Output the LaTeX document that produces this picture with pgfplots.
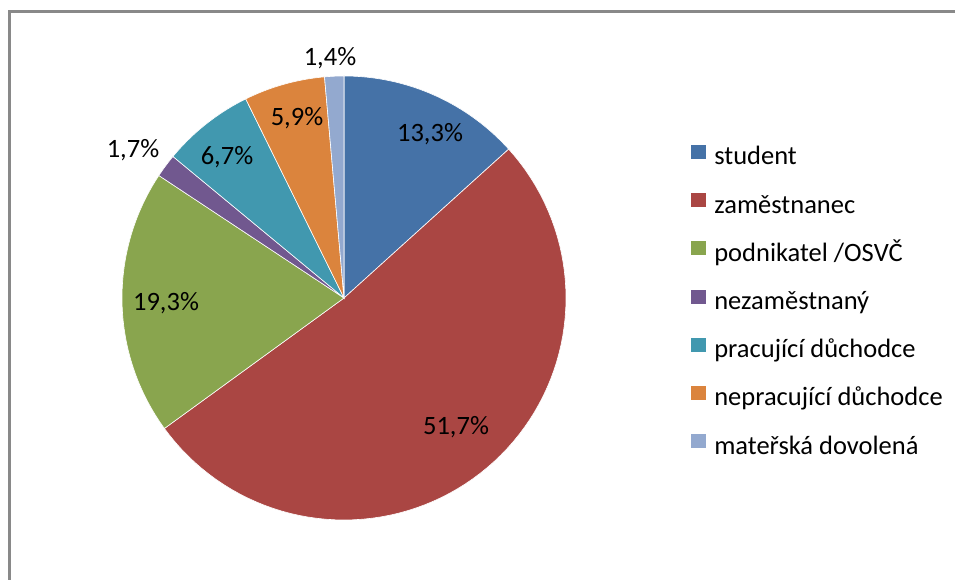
\documentclass[border=0pt]{standalone}
\usepackage{fontspec}
\setmainfont{Carlito}
\usepackage{pgfplots}
\pgfplotsset{compat=1.18}

\definecolor{cStudent}{HTML}{4572A7}
\definecolor{cZam}{HTML}{AA4643}
\definecolor{cPodn}{HTML}{89A54E}
\definecolor{cNezam}{HTML}{71588F}
\definecolor{cPrac}{HTML}{4198AF}
\definecolor{cNeprac}{HTML}{DB843D}
\definecolor{cMat}{HTML}{93A9CF}
\definecolor{frame}{HTML}{898989}

% shares in percent, clockwise from the top
\def\cx{344}\def\cy{282}\def\pieR{222}
\pgfmathsetmacro\aA{90}
\pgfmathsetmacro\aB{\aA-3.6*13.3}
\pgfmathsetmacro\aC{\aB-3.6*51.7}
\pgfmathsetmacro\aD{\aC-3.6*19.3}
\pgfmathsetmacro\aE{\aD-3.6*1.7}
\pgfmathsetmacro\aF{\aE-3.6*6.7}
\pgfmathsetmacro\aG{\aF-3.6*5.9}
\pgfmathsetmacro\aH{\aG-3.6*1.4}

\begin{document}
\begin{tikzpicture}
\begin{axis}[
    x=1pt, y=1pt,
    xmin=0, xmax=955, ymin=0, ymax=580,
    hide axis, clip=false,
    every axis plot/.append style={draw=white, line width=0.6pt, samples=80},
    legend image code/.code={\fill[#1, draw=none] (0pt,0pt) rectangle (15pt,14pt); \path (23pt,0pt);},
    legend cell align=left,
    legend style={at={(axis cs:691,435)}, anchor=north west, draw=none, fill=none,
        inner sep=0pt, outer sep=0pt, row sep=22.2pt,
        font=\fontsize{26.5}{30}\selectfont,
        nodes={inner sep=0pt, text height=18pt, text depth=6pt}},
]
\addplot[fill=cStudent, domain=\aB:\aA] ({\cx+\pieR*cos(x)},{\cy+\pieR*sin(x)}) -- (axis cs:\cx,\cy) -- cycle;
\addlegendentry{student}
\addplot[fill=cZam, domain=\aC:\aB] ({\cx+\pieR*cos(x)},{\cy+\pieR*sin(x)}) -- (axis cs:\cx,\cy) -- cycle;
\addlegendentry{zaměstnanec}
\addplot[fill=cPodn, domain=\aD:\aC] ({\cx+\pieR*cos(x)},{\cy+\pieR*sin(x)}) -- (axis cs:\cx,\cy) -- cycle;
\addlegendentry{podnikatel /OSVČ}
\addplot[fill=cNezam, domain=\aE:\aD, samples=10] ({\cx+\pieR*cos(x)},{\cy+\pieR*sin(x)}) -- (axis cs:\cx,\cy) -- cycle;
\addlegendentry{nezaměstnaný}
\addplot[fill=cPrac, domain=\aF:\aE] ({\cx+\pieR*cos(x)},{\cy+\pieR*sin(x)}) -- (axis cs:\cx,\cy) -- cycle;
\addlegendentry{pracující důchodce}
\addplot[fill=cNeprac, domain=\aG:\aF] ({\cx+\pieR*cos(x)},{\cy+\pieR*sin(x)}) -- (axis cs:\cx,\cy) -- cycle;
\addlegendentry{nepracující důchodce}
\addplot[fill=cMat, domain=\aH:\aG, samples=10] ({\cx+\pieR*cos(x)},{\cy+\pieR*sin(x)}) -- (axis cs:\cx,\cy) -- cycle;
\addlegendentry{mateřská dovolená}

\begin{scope}[every node/.style={font=\fontsize{26.5}{30}\selectfont, inner sep=0pt}]
\node at (axis cs:430,446) {13,3\%};
\node at (axis cs:456,153) {51,7\%};
\node at (axis cs:166,277) {19,3\%};
\node at (axis cs:133,430) {1,7\%};
\node at (axis cs:227,423) {6,7\%};
\node at (axis cs:297,462) {5,9\%};
\node at (axis cs:330,522) {1,4\%};
\end{scope}

\draw[frame, line width=2.5pt] (axis cs:9.5,0) -- (axis cs:9.5,568.5) -- (axis cs:955,568.5);
\coordinate (SW) at (axis cs:0,0);
\coordinate (NE) at (axis cs:955,580);
\end{axis}
\pgfresetboundingbox
\useasboundingbox (SW) rectangle (NE);
\end{tikzpicture}
\end{document}
